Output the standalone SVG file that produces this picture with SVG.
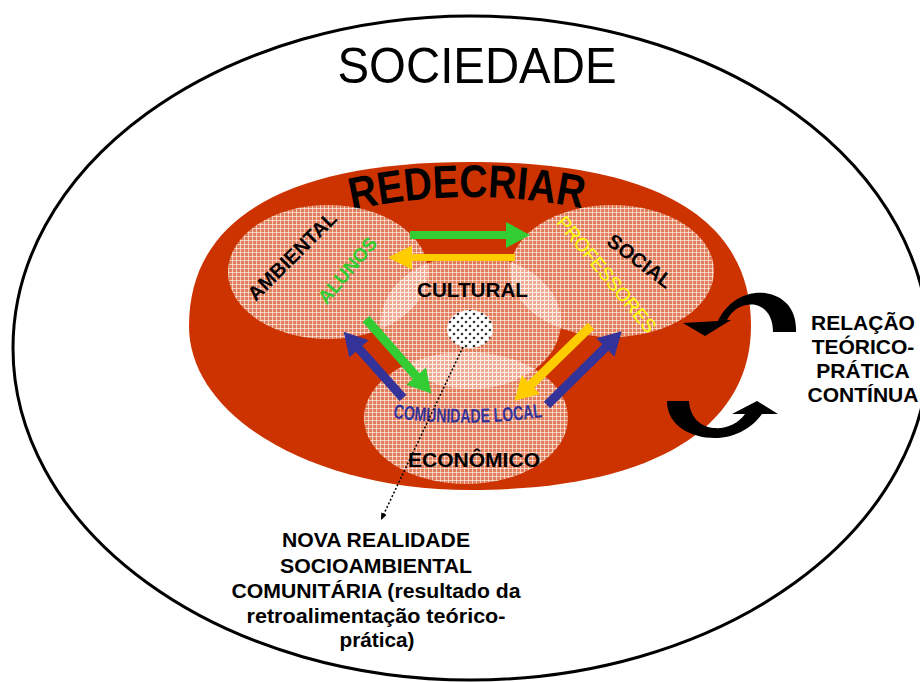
<svg xmlns="http://www.w3.org/2000/svg" width="920" height="682" viewBox="0 0 920 682">
<defs>
<style>
.t{font-family:"Liberation Sans",Arial,sans-serif}
.b{font-weight:bold}
.blk{fill:#000}
.grn{fill:#33CC33}
.yel{fill:#FFCC00}
.blu{fill:#333399}
.circ{fill:url(#grid)}
</style>
<pattern id="grid" width="4" height="4" patternUnits="userSpaceOnUse">
<rect width="4" height="4" fill="#FFE6DC" fill-opacity="0.42"/>
<path d="M0 0.5H4M0.5 0V4" stroke="#fff" stroke-opacity="0.6" stroke-width="1"/>
</pattern>
<pattern id="dots" width="8" height="8" patternUnits="userSpaceOnUse">
<rect width="8" height="8" fill="#fff"/>
<circle cx="2" cy="2" r="1.3" fill="#333"/>
<circle cx="6" cy="6" r="1.3" fill="#333"/>
</pattern>
<marker id="dotHead" markerWidth="8" markerHeight="8" refX="7" refY="3" orient="auto" markerUnits="userSpaceOnUse">
<path d="M0 0L7 3L0 6Z" fill="#000"/>
</marker>
<path id="arcR" d="M350 211 Q466 184 584 209"/>
<path id="arcC" d="M393 418 Q468 428 544 417"/>
</defs>

<g id="sociedade">
<ellipse cx="471" cy="348" rx="458" ry="332" fill="#fff" stroke="#000" stroke-width="3"/>
<text class="t" x="477" y="83" font-size="50" text-anchor="middle" textLength="279" lengthAdjust="spacingAndGlyphs">SOCIEDADE</text>
</g>

<g id="redecriar">
<path d="M189 326 C189 218 287 162 470 162 C655 162 751 218 751 326 C751 428 652 490 470 490 C315 490 189 418 189 326Z" fill="#CC3300"/>
<text class="t b" font-size="46" fill="#000"><textPath href="#arcR" startOffset="2" textLength="232" lengthAdjust="spacingAndGlyphs">REDECRIAR</textPath></text>
</g>

<g id="ambiental">
<ellipse class="circ" cx="328" cy="272" rx="100" ry="67"/>
<text class="t b blk" font-size="20" text-anchor="middle" transform="translate(292 256) rotate(-45)" y="7">AMBIENTAL</text>
<text class="t b grn" font-size="19" text-anchor="middle" transform="translate(347 270) rotate(-50)" y="7">ALUNOS</text>
</g>

<g id="social">
<ellipse class="circ" cx="612" cy="271" rx="102" ry="66"/>
<text class="t b blk" font-size="20" text-anchor="middle" transform="translate(640 261) rotate(37)" y="7">SOCIAL</text>
<text class="t" font-size="19" fill="#FFFF00" text-anchor="middle" transform="translate(607 274) rotate(50.5)" y="7">PROFESSORES</text>
</g>

<g id="cultural">
<ellipse class="circ" cx="471" cy="322" rx="90" ry="67"/>
<text class="t b blk" x="472.5" y="297" font-size="20" text-anchor="middle" textLength="111" lengthAdjust="spacingAndGlyphs">CULTURAL</text>
</g>

<g id="economico">
<ellipse class="circ" cx="466" cy="418" rx="102" ry="66"/>
<text class="t b blk" x="474" y="467" font-size="20" text-anchor="middle" textLength="132" lengthAdjust="spacingAndGlyphs">ECONÔMICO</text>
</g>

<g id="nova-realidade-ponto">
<ellipse cx="470" cy="329" rx="23" ry="19" fill="url(#dots)"/>
</g>

<g id="comunidade-local">
<text class="t b blu" font-size="20"><textPath href="#arcC" textLength="150" lengthAdjust="spacingAndGlyphs">COMUNIDADE LOCAL</textPath></text>
</g>

<g id="connectors">
<path class="grn" transform="translate(410 235)" d="M0 -4H96V-13L120 0L96 13V4H0Z"/>
<path class="yel" transform="translate(515 257.5) rotate(180)" d="M0 -3.5H103V-12L127 0L103 12V3.5H0Z"/>
<path class="grn" transform="translate(366 319) rotate(48.7)" d="M0 -4.5H76V-13L99 0L76 13V4.5H0Z"/>
<path class="blu" transform="translate(403 398) rotate(-131.8)" d="M0 -4.5H66V-13L89 0L66 13V4.5H0Z"/>
<path class="yel" transform="translate(591 326) rotate(135.7)" d="M0 -4.5H84V-13L107 0L84 13V4.5H0Z"/>
<path class="blu" transform="translate(547 405) rotate(-44.6)" d="M0 -4.5H82V-13L105 0L82 13V4.5H0Z"/>
<line x1="463" y1="347" x2="381" y2="520" stroke="#000" stroke-width="1.5" stroke-dasharray="2 2" marker-end="url(#dotHead)"/>
<path class="blk" d="M796 332 C797 310 785 296 765 293 C745 291 727 302 718 321 L683 323 L705 336 L731 320 L727 320 C733 308 745 303 756 305 C767 308 773 318 773 332Z"/>
<path class="blk" d="M667 401 C667 425 690 438 715 438 C735 438 752 428 762 414 L778 414 L757 401 L732 414 L745 414 C738 424 726 429 714 428 C700 427 690 417 689 401Z"/>
</g>

<g id="relacao" class="t b blk" font-size="21" text-anchor="middle">
<text x="863" y="330">RELAÇÃO</text>
<text x="863" y="354">TEÓRICO-</text>
<text x="863" y="378">PRÁTICA</text>
<text x="863" y="402">CONTÍNUA</text>
</g>

<g id="nova-realidade" class="t b blk" font-size="20" text-anchor="middle">
<text x="376" y="547" textLength="188" lengthAdjust="spacingAndGlyphs">NOVA REALIDADE</text>
<text x="376" y="573" textLength="192" lengthAdjust="spacingAndGlyphs">SOCIOAMBIENTAL</text>
<text x="376" y="598" textLength="289" lengthAdjust="spacingAndGlyphs">COMUNITÁRIA (resultado da</text>
<text x="376" y="623" textLength="259" lengthAdjust="spacingAndGlyphs">retroalimentação teórico-</text>
<text x="377" y="647" textLength="75" lengthAdjust="spacingAndGlyphs">prática)</text>
</g>
</svg>
